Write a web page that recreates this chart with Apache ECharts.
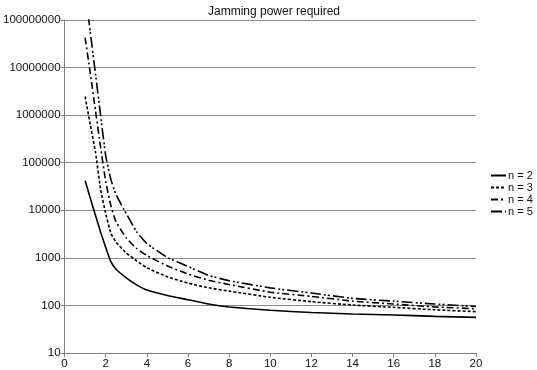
<!DOCTYPE html>
<html>
<head>
<meta charset="utf-8">
<script src="https://cdn.jsdelivr.net/npm/echarts@6/dist/echarts.min.js"></script>
<style>
html,body{margin:0;padding:0;background:#fff;}
#chart{width:537px;height:370px;}
</style>
</head>
<body>
<div id="chart"></div>
<script>
var title = 'Jamming power required';
var xValues = [1, 1.25, 1.5, 1.75, 2, 2.25, 2.5, 3, 3.5, 4, 5, 6, 7, 8, 10, 12, 14, 16, 18, 20];
var seriesNames = ['n = 2', 'n = 3', 'n = 4', 'n = 5'];
var n2 = [42000, 18000, 7900, 3500, 1650, 830, 575, 380, 270, 210, 162, 132, 107, 93, 79, 71, 66, 63, 59, 56];
var n3 = [2450000, 630000, 170000, 28000, 8500, 3300, 2150, 1260, 870, 620, 400, 295, 235, 200, 148, 120, 102, 91, 81, 74];
var n4 = [42700000, 7600000, 1260000, 214000, 40000, 12600, 5750, 2630, 1580, 1120, 676, 457, 339, 275, 190, 155, 123, 107, 93, 85];
var n5 = [400000000, 56000000, 7600000, 1000000, 141000, 44700, 21400, 8500, 3550, 2000, 1020, 660, 427, 331, 234, 182, 141, 123, 107, 95];
var xTickLabels = ['0','2','4','6','8','10','12','14','16','18','20'];
var yTickLabels = ['10','100','1000','10000','100000','1000000','10000000','100000000'];

var dashes = ['solid', [3, 2], [7, 3, 2, 3], [11, 3, 2, 2, 2, 3]];
var allData = [n2, n3, n4, n5];

function pairs(arr) {
  return xValues.map(function (x, i) { return [x, arr[i]]; });
}

var chart = echarts.init(document.getElementById('chart'), null, {renderer: 'canvas'});
var font = 'Liberation Sans, Arial, sans-serif';
chart.setOption({
  animation: false,
  backgroundColor: '#ffffff',
  title: {
    text: title,
    left: 269, top: 1, textAlign: 'center',
    textStyle: {fontFamily: font, fontSize: 12, fontWeight: 'normal', color: '#111'}
  },
  grid: {left: 62, right: 61, top: 20, bottom: 17, containLabel: false},
  legend: {
    orient: 'vertical',
    left: 485, top: 165,
    itemWidth: 15, itemHeight: 10, itemGap: 1,
    itemStyle: {opacity: 0},
    textStyle: {fontFamily: font, fontSize: 11, color: '#111', padding: [0, 0, 0, -3]},
    data: seriesNames
  },
  xAxis: {
    type: 'value', min: 0, max: 20, interval: 2,
    axisLine: {show: true, lineStyle: {color: '#808080', width: 1}},
    axisTick: {show: true, length: 4, lineStyle: {color: '#808080'}},
    axisLabel: {
      fontFamily: font, fontSize: 11.5, color: '#111', margin: 5,
      formatter: function (v) { return xTickLabels[Math.round(v / 2)]; }
    },
    splitLine: {show: false}
  },
  yAxis: {
    type: 'log', logBase: 10, min: 10, max: 100000000,
    axisLine: {show: true, lineStyle: {color: '#808080', width: 1}},
    axisTick: {show: true, length: 4, lineStyle: {color: '#808080'}},
    axisLabel: {
      fontFamily: font, fontSize: 11.5, color: '#111', margin: 4,
      formatter: function (v) {
        var k = Math.round(Math.log10(v)) - 1;
        return yTickLabels[k] !== undefined ? yTickLabels[k] : '';
      }
    },
    splitLine: {show: true, lineStyle: {color: '#8a8a8a', width: 1}},
    minorTick: {show: false}
  },
  series: seriesNames.map(function (name, i) {
    return {
      name: name,
      type: 'line',
      data: pairs(allData[i]),
      showSymbol: false,
      symbol: 'none',
      smooth: 0.15,
      clip: true,
      lineStyle: {color: '#000', width: 1.6, type: dashes[i]},
      itemStyle: {color: '#000'}
    };
  })
});
</script>
</body>
</html>
